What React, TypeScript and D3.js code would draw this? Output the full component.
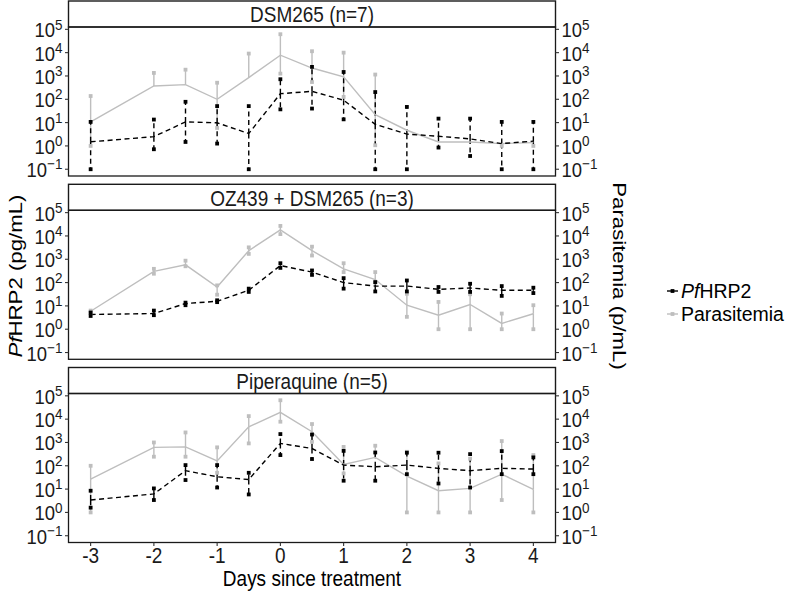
import React from "react";
import * as d3 from "d3";

// ---------- data ----------
const days = [-3, -2, -1.5, -1, -0.5, 0, 0.5, 1, 1.5, 2, 2.5, 3, 3.5, 4];
const panelTitles = ["DSM265 (n=7)", "OZ439 + DSM265 (n=3)", "Piperaquine (n=5)"];
const xTicks = [-3, -2, -1, 0, 1, 2, 3, 4];
const yTickExps = [-1, 0, 1, 2, 3, 4, 5];

// DSM265
const p1HrpMean = [1.5, 2.5, 10.7, 9.8, 3.4, 174, 219, 91, 8.5, 3.2, 2.6, 2.0, 1.26, 1.6];
const p1HrpHi = [10.7, 13.5, 78, 51, 51, 724, 2450, 1480, 204, 47, 14.8, 14.8, 10.7, 10.7];
const p1HrpLo = [0.1, 0.72, 1.48, 1.26, 0.1, 37, 40, 13.8, 0.1, 0.1, 0.85, 0.37, 0.1, 0.1];
const p1ParMean = [10.7, 372, 427, 100, 851, 7760, 2190, 912, 21.9, 4.7, 1.48, 1.48, 1.26, 1.38];
const p1ParHi = [138, 1350, 1860, 513, 9120, 61700, 11500, 10000, 1150, null, null, null, null, null];
const p1ParLo = [1, null, null, 5.9, null, 1260, 550, 126, 1.07, null, null, null, 1, 1];

// OZ439 + DSM265
const p2HrpMean = [4.3, 4.7, 12.6, 15.8, 46.8, 537, 282, 100, 70.8, 70.8, 51.3, 58.9, 46.8, 46.8];
const p2HrpHi = [5.2, 6.3, 13.8, 17.4, 55, 676, 331, 155, 105, 123, 64.6, 89, 70.8, 60.3];
const p2HrpLo = [3.7, 4.0, 10.7, 14.5, 39.8, 427, 214, 55, 41.7, 41.7, 39.8, 39.8, 26.9, 35.5];
const p2ParMean = [5.9, 302, 575, 64.6, 2340, 18200, 2340, 389, 135, 10.7, 4.0, 11.5, 1.78, 4.6];
const p2ParHi = [6.3, 389, 871, 75.9, 3240, 26900, 3470, 676, 282, 33, 14.8, 31.6, 4.7, 10.7];
const p2ParLo = [5.0, 240, 501, 30.2, 1700, 12000, 1450, 282, 100, 3.4, 1, 1, 1, 1];

// Piperaquine
const p3HrpMean = [3.4, 6.2, 61.7, 33.9, 25.7, 912, 550, 107, 91, 107, 77.6, 61.7, 77.6, 72.4];
const p3HrpHi = [8.5, 10.7, 107, 107, 50, 2290, 2190, 436, 372, 363, 363, 316, 427, 229];
const p3HrpLo = [1.6, 3.4, 24.5, 11.7, 5.9, 288, 195, 22.9, 22.9, 43.7, 17.4, 11.7, 43.7, 43.7];
const p3ParMean = [26.9, 617, 646, 162, 4680, 19500, 2880, 115, 229, 36.3, 8.5, 10.7, 43.7, 9.8];
const p3ParHi = [100, 1000, 2690, 617, 13500, 64600, 6170, 646, 724, 398, 126, 200, 1150, 288];
const p3ParLo = [1, 245, 245, 50, 912, 7760, 1070, 46.8, null, 1, 1, 1, 3.4, 1];

const panels = [
  { title: panelTitles[0], hm: p1HrpMean, hh: p1HrpHi, hl: p1HrpLo, pm: p1ParMean, ph: p1ParHi, pl: p1ParLo },
  { title: panelTitles[1], hm: p2HrpMean, hh: p2HrpHi, hl: p2HrpLo, pm: p2ParMean, ph: p2ParHi, pl: p2ParLo },
  { title: panelTitles[2], hm: p3HrpMean, hh: p3HrpHi, hl: p3HrpLo, pm: p3ParMean, ph: p3ParHi, pl: p3ParLo },
];

// ---------- layout ----------
const W = 797, H = 592;
const left = 68.5, right = 555.5;
const plotTops = [27, 210.3, 393.5];
const plotH = 149;
const stripH = 26;
const FONT = "'Liberation Sans', Arial, Helvetica, sans-serif";
const GREY = "#bebebe";
const INK = "#1a1a1a";
const SQ = 3.8;
const SY = 1.17; // vertical stretch of text seen in the reference

const x = d3.scaleLinear().domain([-3.35, 4.35]).range([left, right]);

function SText({ x: tx, y: ty, rotate = 0, sy = SY, children, ...rest }: any) {
  return (
    <g transform={`translate(${tx},${ty}) scale(1,${sy}) rotate(${rotate})`}>
      <text x={0} y={0} fontFamily={FONT} {...rest}>
        {children}
      </text>
    </g>
  );
}

function Series({ y, mean, hi, lo, color, dash, which }: any) {
  const line = d3
    .line<number>()
    .x((_, i) => x(days[i]))
    .y((d) => y(d));
  if (which === "bars") {
    return (
      <g>
        {days.map((d, i) => (
          <g key={i}>
            {hi[i] != null && (
              <line x1={x(d)} x2={x(d)} y1={y(mean[i])} y2={y(hi[i])} stroke={color} strokeWidth={1.4} strokeDasharray={dash} />
            )}
            {lo[i] != null && (
              <line x1={x(d)} x2={x(d)} y1={y(mean[i])} y2={y(lo[i])} stroke={color} strokeWidth={1.4} strokeDasharray={dash} />
            )}
          </g>
        ))}
      </g>
    );
  }
  if (which === "line") {
    return <path d={line(mean) || ""} fill="none" stroke={color} strokeWidth={1.4} strokeDasharray={dash} />;
  }
  return (
    <g>
      {days.map((d, i) => (
        <g key={i}>
          {hi[i] != null && <rect x={x(d) - SQ / 2} y={y(hi[i]) - SQ / 2} width={SQ} height={SQ} fill={color} />}
          {lo[i] != null && <rect x={x(d) - SQ / 2} y={y(lo[i]) - SQ / 2} width={SQ} height={SQ} fill={color} />}
        </g>
      ))}
    </g>
  );
}

function YLabel({ xPos, yPos, exp, anchor }: any) {
  return (
    <SText x={xPos} y={yPos + 8} sy={1.12} textAnchor={anchor} fontSize={18.5} fill={INK}>
      <tspan>10</tspan>
      <tspan dy={-7} fontSize={13.5}>{exp < 0 ? "\u2212" + Math.abs(exp) : String(exp)}</tspan>
    </SText>
  );
}

function Panel({ p, top, isLast }: any) {
  const y = d3.scaleLog().domain([Math.pow(10, -1.29), Math.pow(10, 5.1)]).range([top + plotH, top]);
  const dash = "5,3.5";
  return (
    <g>
      <rect x={left} y={top - stripH} width={right - left} height={stripH} fill="white" stroke={INK} strokeWidth={1.4} />
      <SText x={(left + right) / 2} y={top - 4.8} textAnchor="middle" fontSize={19} fill={INK}>
        {p.title}
      </SText>
      <Series y={y} mean={p.pm} hi={p.ph} lo={p.pl} color={GREY} which="bars" />
      <Series y={y} mean={p.hm} hi={p.hh} lo={p.hl} color="#000" dash={dash} which="bars" />
      <Series y={y} mean={p.pm} hi={p.ph} lo={p.pl} color={GREY} which="line" />
      <Series y={y} mean={p.hm} hi={p.hh} lo={p.hl} color="#000" dash={dash} which="line" />
      <Series y={y} mean={p.pm} hi={p.ph} lo={p.pl} color={GREY} which="pts" />
      <Series y={y} mean={p.hm} hi={p.hh} lo={p.hl} color="#000" which="pts" />
      <rect x={left} y={top} width={right - left} height={plotH} fill="none" stroke={INK} strokeWidth={1.3} />
      {yTickExps.map((e) => {
        const yy = y(Math.pow(10, e));
        return (
          <g key={e}>
            <line x1={left - 3.5} x2={left} y1={yy} y2={yy} stroke="#333" strokeWidth={1.1} />
            <line x1={right} x2={right + 3.5} y1={yy} y2={yy} stroke="#333" strokeWidth={1.1} />
            <YLabel xPos={left - 6} yPos={yy} exp={e} anchor="end" />
            <YLabel xPos={right + 6} yPos={yy} exp={e} anchor="start" />
          </g>
        );
      })}
      {isLast &&
        xTicks.map((t) => (
          <g key={t}>
            <line x1={x(t)} x2={x(t)} y1={top + plotH} y2={top + plotH + 3.5} stroke="#333" strokeWidth={1.1} />
            <SText x={x(t)} y={top + plotH + 20} textAnchor="middle" fontSize={19} fill={INK}>
              {String(t)}
            </SText>
          </g>
        ))}
    </g>
  );
}

export default function App() {
  const midY = 276;
  return (
    <svg width={W} height={H} style={{ position: "fixed", left: 0, top: 0, background: "white" }}>
      <rect width={W} height={H} fill="white" />
      {panels.map((p, i) => (
        <Panel key={i} p={p} top={plotTops[i]} isLast={i === 2} />
      ))}
      <SText x={(left + right) / 2} y={586} textAnchor="middle" fontSize={19} fill="#000">
        Days since treatment
      </SText>
      <SText x={15} y={midY} rotate={-90} textAnchor="middle" dominantBaseline="central" fontSize={19} fill="#000">
        <tspan fontStyle="italic">Pf</tspan>
        <tspan>HRP2 (pg/mL)</tspan>
      </SText>
      <SText x={620} y={midY} rotate={90} textAnchor="middle" dominantBaseline="central" fontSize={19} fill="#000">
        Parasitemia (p/mL)
      </SText>
      <g>
        <line x1={667} x2={678} y1={291} y2={291} stroke="#000" strokeWidth={1.4} />
        <rect x={672.5 - SQ / 2} y={291 - SQ / 2} width={SQ} height={SQ} fill="#000" />
        <SText x={681} y={291} sy={1} dominantBaseline="central" fontSize={19.5} fill="#000">
          <tspan fontStyle="italic">Pf</tspan>
          <tspan>HRP2</tspan>
        </SText>
        <line x1={667} x2={678} y1={314} y2={314} stroke={GREY} strokeWidth={1.4} />
        <rect x={672.5 - SQ / 2} y={314 - SQ / 2} width={SQ} height={SQ} fill={GREY} />
        <SText x={681} y={314} sy={1} dominantBaseline="central" fontSize={19.5} fill="#000">
          Parasitemia
        </SText>
      </g>
    </svg>
  );
}
